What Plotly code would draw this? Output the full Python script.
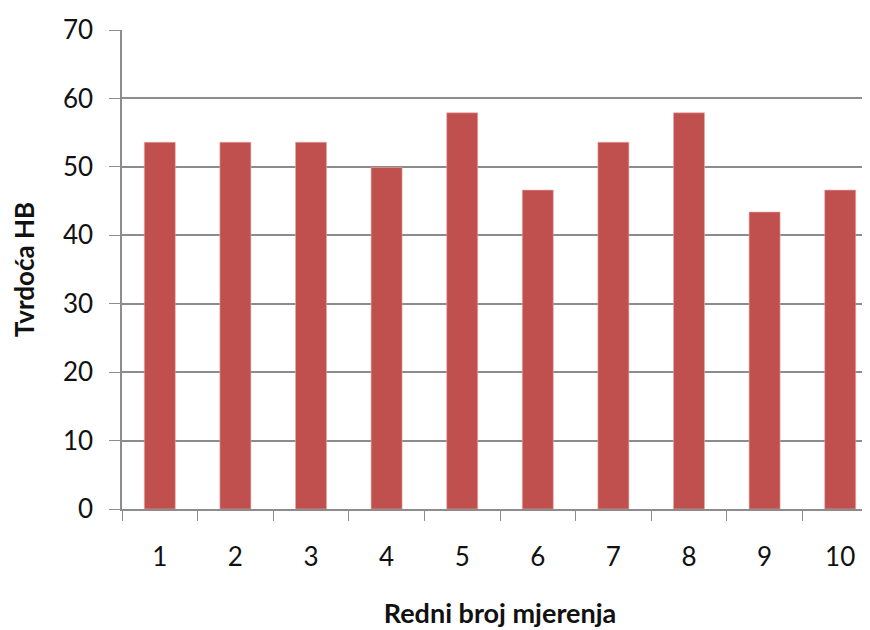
import plotly.graph_objects as go

categories = ["1", "2", "3", "4", "5", "6", "7", "8", "9", "10"]
hardness = [53.6, 53.6, 53.6, 49.9, 57.9, 46.6, 53.6, 57.9, 43.4, 46.6]
y_ticks = [0, 10, 20, 30, 40, 50, 60, 70]

FONT = "Lato"
GRID = "#8c8c8c"
TXT = "#111111"

fig = go.Figure(
    go.Bar(
        x=categories,
        y=hardness,
        marker=dict(color="#c0504d", line=dict(color="#e8a9a7", width=0.6)),
    )
)

fig.update_layout(
    width=870,
    height=630,
    margin=dict(l=114, r=0, t=22, b=129),
    paper_bgcolor="white",
    plot_bgcolor="white",
    bargap=0.59,
    showlegend=False,
    font=dict(family=FONT, color=TXT, size=26),
)

fig.update_xaxes(
    type="category",
    range=[-0.5, 9.5],
    tickson="boundaries",
    ticks="outside",
    ticklen=10,
    tickwidth=1.3,
    tickcolor=GRID,
    showline=True,
    linecolor=GRID,
    linewidth=1.5,
    showgrid=False,
    ticklabelstandoff=24,
    tickfont=dict(family=FONT, size=26, color=TXT),
    title=dict(text="<b>Redni broj mjerenja</b>", font=dict(family=FONT, size=27, color=TXT), standoff=33),
)

fig.update_yaxes(
    range=[0, 70],
    tickvals=y_ticks,
    ticks="outside",
    ticklen=11,
    tickwidth=1.3,
    tickcolor=GRID,
    showline=True,
    linecolor=GRID,
    linewidth=1.5,
    showgrid=True,
    gridcolor=GRID,
    gridwidth=1.5,
    zeroline=False,
    ticklabelstandoff=11,
    tickfont=dict(family=FONT, size=26, color=TXT),
    title=dict(text="<b>Tvrdoća HB</b>", font=dict(family=FONT, size=26, color=TXT), standoff=27),
)

fig.write_html("out.html")
